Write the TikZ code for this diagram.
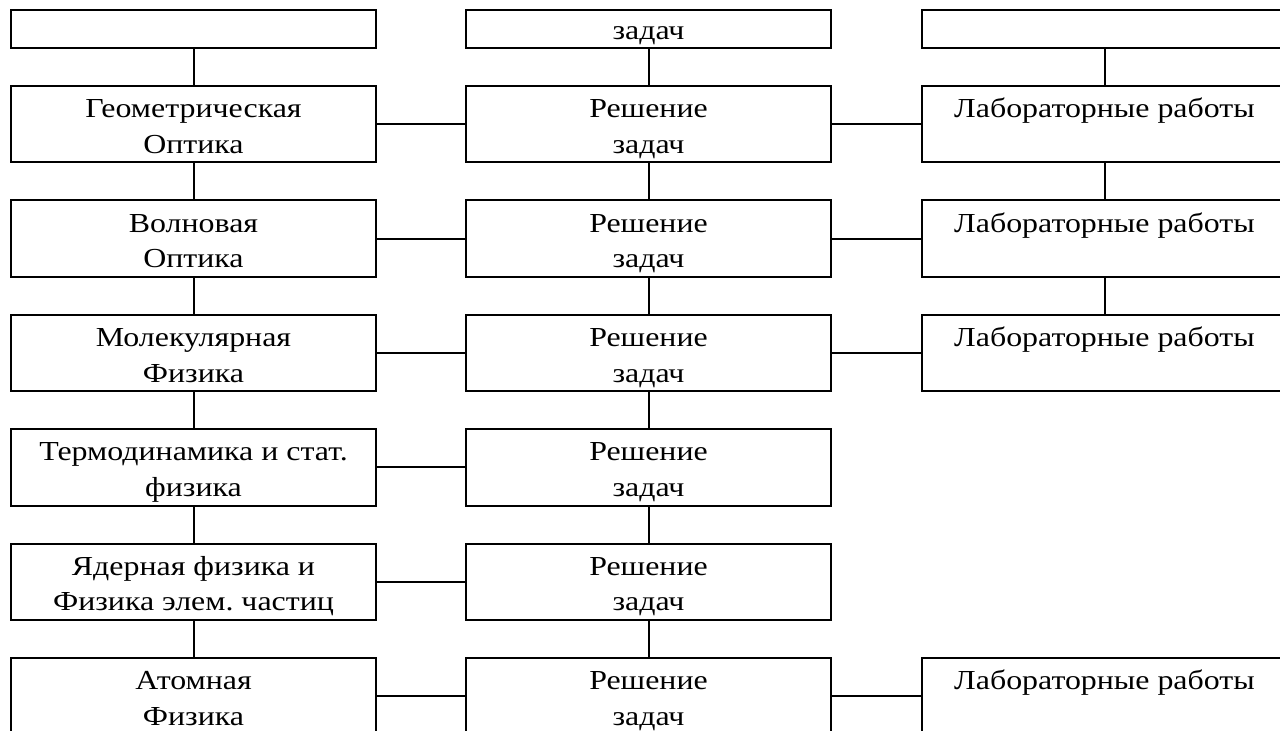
\documentclass[tikz,border=0pt]{standalone}
\usepackage{fontspec}
\setmainfont[FakeStretch=1.16]{Liberation Serif}
\frenchspacing
\begin{document}
\begin{tikzpicture}[x=1pt,y=-1pt,line width=2pt,
  box/.style={draw,line width=2pt,minimum width=365pt,minimum height=76.3pt,inner sep=0pt,outer sep=0pt},
  topbox/.style={draw,line width=2pt,minimum width=365pt,minimum height=38pt,inner sep=0pt,outer sep=0pt},
  txt/.style={font=\fontsize{27.5}{35.6}\selectfont,align=center,inner sep=0pt,anchor=north},
  link/.style={draw,line width=2pt}]
\useasboundingbox (0,0) rectangle (1280,731);
\clip (0,0) rectangle (1280,731);
% row 1 (cut off at the top)
\node[topbox] (L1) at (193.5,29) {};
\node[topbox] (M1) at (648.5,29) {};
\node[topbox] (R1) at (1104.5,29) {};
\node[font=\fontsize{27.5}{35.6}\selectfont,anchor=base,inner sep=0pt] (M1t) at (648.5,39.5) {задач};
% rows 2..7
\foreach \r/\y in {2/124.2,3/238.6,4/353.0,5/467.4,6/581.8,7/696.2}{
  \node[box] (L\r) at (193.5,\y) {};
  \node[box] (M\r) at (648.5,\y) {};
  \node[txt] (M\r t) at (648.5,\y-32.37) {\strut Решение\\\strut задач};
}
\foreach \r/\y in {2/124.2,3/238.6,4/353.0,7/696.2}{
  \node[box] (R\r) at (1104.5,\y) {};
  \node[txt] (R\r t) at (1104.5,\y-32.37) {\strut Лабораторные работы};
}
\node[txt] (L2t) at (193.5,124.2-32.37) {\strut Геометрическая\\\strut Оптика};
\node[txt] (L3t) at (193.5,238.6-32.37) {\strut Волновая\\\strut Оптика};
\node[txt] (L4t) at (193.5,353.0-32.37) {\strut Молекулярная\\\strut Физика};
\node[txt] (L5t) at (193.5,467.4-32.37) {\strut Термодинамика и стат.\\\strut физика};
\node[txt] (L6t) at (193.5,581.8-32.37) {\strut Ядерная физика и\\\strut Физика элем. частиц};
\node[txt] (L7t) at (193.5,696.2-32.37) {\strut Атомная\\\strut Физика};
% vertical connectors
\draw[link] (L1.south) -- (L2.north);
\draw[link] (L2.south) -- (L3.north);
\draw[link] (L3.south) -- (L4.north);
\draw[link] (L4.south) -- (L5.north);
\draw[link] (L5.south) -- (L6.north);
\draw[link] (L6.south) -- (L7.north);
\draw[link] (M1.south) -- (M2.north);
\draw[link] (M2.south) -- (M3.north);
\draw[link] (M3.south) -- (M4.north);
\draw[link] (M4.south) -- (M5.north);
\draw[link] (M5.south) -- (M6.north);
\draw[link] (M6.south) -- (M7.north);
\draw[link] (R1.south) -- (R2.north);
\draw[link] (R2.south) -- (R3.north);
\draw[link] (R3.south) -- (R4.north);
% horizontal connectors
\foreach \r in {2,...,7}{\draw[link] (L\r.east) -- (M\r.west);}
\foreach \r in {2,3,4,7}{\draw[link] (M\r.east) -- (R\r.west);}
\end{tikzpicture}
\end{document}
